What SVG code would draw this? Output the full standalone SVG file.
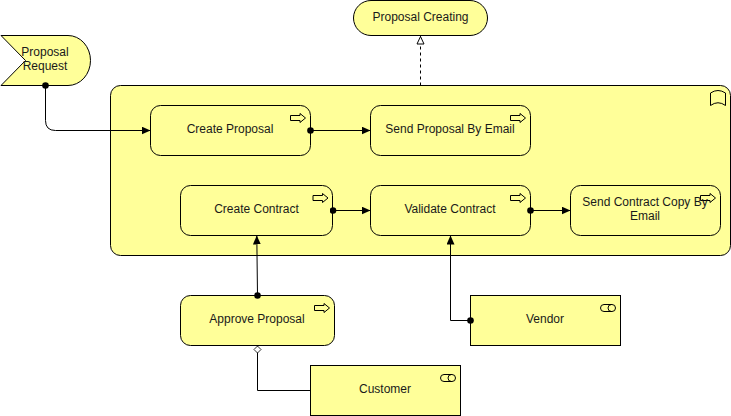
<svg xmlns="http://www.w3.org/2000/svg" width="731" height="416" viewBox="0 0 731 416">
<style>
text{font-family:"Liberation Sans",Arial,Helvetica,sans-serif;font-size:12px;fill:#1a1a1a;text-anchor:middle}
.n{fill:#ffff99;stroke:#000;stroke-width:1}
.i{fill:none;stroke:#000;stroke-width:1}
.a{fill:#ffff99;stroke:#000;stroke-width:1}
.c{fill:none;stroke:#000;stroke-width:1}
</style>
<defs>
<path id="arrow" class="a" d="M0.500 1.500H10V-0.500L15.500 4L10 8.500V6.500H0.500Z"/>
<g id="actor"><rect class="i" x="0.500" y="0.500" width="15" height="7" rx="3.500"/><path class="i" d="M11.500 0.500A3.500 3.500 0 0 0 11.500 7.500"/></g>
<marker id="tri" viewBox="0 0 9 8" refX="8.500" refY="4" markerWidth="9" markerHeight="8" orient="auto" markerUnits="userSpaceOnUse"><path d="M0 0L9 4L0 8Z" fill="#000"/></marker>
<marker id="dot" viewBox="0 0 7 7" refX="3.500" refY="3.500" markerWidth="7" markerHeight="7" markerUnits="userSpaceOnUse"><circle cx="3.500" cy="3.500" r="3.300" fill="#000"/></marker>
<marker id="hollow" viewBox="0 0 10 10" refX="9" refY="5" markerWidth="10" markerHeight="10" orient="auto" markerUnits="userSpaceOnUse"><path d="M1 1.500L8.500 5L1 8.500Z" fill="#fff" stroke="#000"/></marker>
<marker id="diamond" viewBox="0 0 9 9" refX="8.500" refY="4.500" markerWidth="9" markerHeight="9" orient="auto" markerUnits="userSpaceOnUse"><path d="M1 4.500L4.500 1L8 4.500L4.500 8Z" fill="#fff" stroke="#000" stroke-width="0.800"/></marker>
</defs>

<g id="proposal-creating"><rect class="n" x="353.500" y="0.500" width="134" height="35" rx="17.500"/><text x="420.500" y="21">Proposal Creating</text></g>
<g id="proposal-request"><path class="n" d="M1 35.500H68A22.500 25 0 0 1 68 85.500H1L25.500 60.500Z"/><text x="45" y="56">Proposal</text><text x="45" y="70">Request</text></g>
<g id="group"><rect class="n" x="110.500" y="85.500" width="620" height="170" rx="10"/><path class="i" d="M710.500 105.500V93Q718 88 725.500 93V105.500Q718 100 710.500 105.500Z"/></g>
<g id="create-proposal"><rect class="n" x="150.500" y="105.500" width="160" height="50" rx="10"/><use href="#arrow" x="290" y="114"/><text x="230" y="133">Create Proposal</text></g>
<g id="send-proposal"><rect class="n" x="370.500" y="105.500" width="160" height="50" rx="10"/><use href="#arrow" x="510" y="114"/><text x="450" y="133">Send Proposal By Email</text></g>
<g id="create-contract"><rect class="n" x="180.500" y="185.500" width="152" height="50" rx="10"/><use href="#arrow" x="312.500" y="194"/><text x="256.500" y="213">Create Contract</text></g>
<g id="validate-contract"><rect class="n" x="370.500" y="185.500" width="160" height="50" rx="10"/><use href="#arrow" x="510" y="194"/><text x="450" y="213">Validate Contract</text></g>
<g id="send-contract"><rect class="n" x="570.500" y="185.500" width="150" height="50" rx="10"/><use href="#arrow" x="700" y="194"/><text x="645" y="206">Send Contract Copy By</text><text x="645" y="220">Email</text></g>
<g id="approve-proposal"><rect class="n" x="180.500" y="295.500" width="154" height="50" rx="10"/><use href="#arrow" x="314" y="304"/><text x="257" y="323">Approve Proposal</text></g>
<g id="vendor"><rect class="n" x="470.500" y="295.500" width="150" height="50"/><use href="#actor" x="600" y="304"/><text x="545" y="323">Vendor</text></g>
<g id="customer"><rect class="n" x="310.500" y="365.500" width="150" height="50"/><use href="#actor" x="440" y="374"/><text x="385" y="393">Customer</text></g>
<g id="connectors">
<path class="c" d="M45.500 85.500V120.500Q45.500 130.500 55.500 130.500H150" marker-start="url(#dot)" marker-end="url(#tri)"/>
<path class="c" stroke-dasharray="3 3" d="M420.500 85.500V36" marker-end="url(#hollow)"/>
<path class="c" d="M310.500 130.500H370" marker-start="url(#dot)" marker-end="url(#tri)"/>
<path class="c" d="M333 210.500H370" marker-start="url(#dot)" marker-end="url(#tri)"/>
<path class="c" d="M530.500 210.500H570" marker-start="url(#dot)" marker-end="url(#tri)"/>
<path class="c" d="M257.500 295.500L256.800 236" marker-start="url(#dot)" marker-end="url(#tri)"/>
<path class="c" d="M470.500 320.500H450.500V236" marker-start="url(#dot)" marker-end="url(#tri)"/>
<path class="c" d="M310.500 390.500H257.500V345.500" marker-end="url(#diamond)"/>
</g>
</svg>
